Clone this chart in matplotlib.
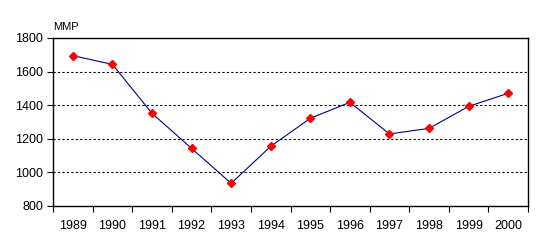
import matplotlib
matplotlib.use("Agg")
import matplotlib.pyplot as plt
import numpy as np

years = ["1989", "1990", "1991", "1992", "1993", "1994", "1995", "1996", "1997", "1998", "1999", "2000"]
values = [1695, 1643, 1352, 1143, 935, 1155, 1322, 1417, 1229, 1262, 1393, 1471]
y_ticks = [800, 1000, 1200, 1400, 1600, 1800]

plt.rcParams['font.family'] = ['Liberation Sans', 'DejaVu Sans']

fig = plt.figure(figsize=(5.44, 2.5), dpi=100)
ax = fig.add_axes([53/544, 1-206/250, (528-53)/544, (206-38)/250])

x = np.arange(len(years))
ax.plot(x, values, color='#000080', linewidth=0.8, zorder=3)
ax.plot(x, values, linestyle='none', marker='D', markersize=4.5, color='#ff0000',
        markeredgecolor='#ff0000', zorder=4)

ax.set_xlim(-0.5, len(years) - 0.5)
ax.set_ylim(800, 1800)
ax.set_yticks(y_ticks)
ax.set_yticklabels([str(v) for v in y_ticks], fontsize=9)
ax.set_xticks(np.arange(-0.5, len(years)), labels=[""] * (len(years) + 1))
ax.set_xticks(x, minor=True)
ax.set_xticklabels(years, minor=True, fontsize=9)
ax.tick_params(axis='x', which='major', length=4, width=0.8, direction='out')
ax.tick_params(axis='x', which='minor', length=0, pad=10)
ax.tick_params(axis='y', length=4, width=0.8, direction='out', pad=3)

for v in y_ticks[1:-1]:
    ax.axhline(v, color='black', linestyle=(0, (2, 2)), linewidth=0.8, zorder=1)

for s in ax.spines.values():
    s.set_color('black')
    s.set_linewidth(1.0)

fig.text(53/544, 1-27/250, "MMP", fontsize=8, ha='left', va='center')

fig.savefig("out.png", dpi=100)
